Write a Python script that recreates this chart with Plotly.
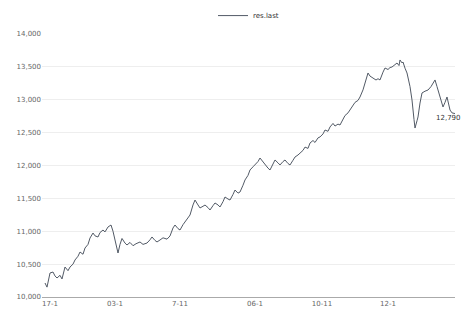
import plotly.graph_objects as go

series_name = "res.last"

# x positions (day index) and values
days = [0, 2, 5, 8, 10, 12, 15, 17, 20, 23, 25, 28, 30, 33, 35, 38, 40, 43, 45, 48,
        50, 53, 55, 58, 60, 63, 66, 68, 70, 73, 75, 77, 80, 82, 85, 88, 91, 95, 98, 102,
        105, 107, 110, 112, 115, 118, 122, 125, 128, 130, 133, 135, 138, 140, 143, 145, 148, 150, 153, 155,
        158, 160, 163, 165, 168, 170, 173, 175, 178, 180, 183, 185, 188, 190, 193, 195, 198, 200, 203, 205,
        208, 210, 213, 215, 218, 220, 223, 225, 228, 230, 233, 235, 238, 240, 243, 245, 248, 250, 253, 255,
        258, 260, 263, 265, 268, 270, 273, 275, 278, 280, 283, 285, 288, 290, 293, 295, 298, 300, 303, 305,
        308, 310, 313, 315, 318, 320, 323, 325, 328, 331, 333, 335, 338, 340, 343, 345, 347, 350, 352, 354,
        355, 357, 358, 360, 362, 365, 367, 369, 370, 372, 373, 375, 377, 380, 383, 386, 388, 390, 392, 395,
        398, 400, 402, 405, 407, 410]
values = [10213, 10150, 10365, 10380, 10320, 10289, 10330, 10274, 10456, 10400,
          10456, 10500, 10563, 10620, 10684, 10650, 10745, 10800, 10897, 10973,
          10930, 10913, 10980, 11019, 10990, 11065, 11095, 11000, 10867, 10669,
          10800, 10890, 10820, 10791, 10830, 10780, 10810, 10837, 10800, 10821,
          10870, 10913, 10860, 10837, 10867, 10900, 10880, 10928, 11050, 11095,
          11040, 11019, 11100, 11141, 11200, 11247, 11400, 11475, 11400, 11354,
          11380, 11399, 11360, 11323, 11390, 11430, 11400, 11369, 11450, 11521,
          11490, 11475, 11560, 11627, 11580, 11597, 11700, 11780, 11850, 11932,
          11980, 12008, 12060, 12114, 12050, 12008, 11960, 11932, 12030, 12084,
          12040, 12008, 12060, 12084, 12030, 12008, 12080, 12129, 12160, 12190,
          12230, 12280, 12260, 12342, 12380, 12350, 12420, 12434, 12480, 12540,
          12520, 12586, 12640, 12600, 12630, 12616, 12700, 12760, 12800, 12844,
          12900, 12960, 12990, 13042, 13150, 13255, 13407, 13360, 13331, 13300,
          13320, 13301, 13420, 13483, 13460, 13490, 13498, 13530, 13559, 13520,
          13605, 13560, 13574, 13480, 13407, 13200, 12996, 12700, 12570, 12680,
          12738, 12950, 13103, 13130, 13148, 13200, 13260, 13301, 13200, 13042,
          12890, 12960, 13042, 12844, 12800, 12790]

tick_days = [5, 70, 135, 210, 277, 343]
tick_labels = ["17-1", "03-1", "7-11", "06-1", "10-11", "12-1"]
y_ticks = [10000, 10500, 11000, 11500, 12000, 12500, 13000, 13500, 14000]

n = min(len(days), len(values))
days = days[:n]
values = values[:n]

fig = go.Figure()
fig.add_trace(go.Scatter(
    x=days, y=values, mode="lines", name=series_name,
    line=dict(color="#525a66", width=1),
))

fig.add_annotation(
    x=days[-1], y=values[-1], text=f"{values[-1]:,}", showarrow=False,
    xanchor="right", yanchor="middle", xshift=8, yshift=-4,
    font=dict(size=7, color="#333"),
)

fig.update_layout(
    width=464, height=315,
    margin=dict(l=42, r=9, t=34, b=18, autoexpand=False),
    paper_bgcolor="white", plot_bgcolor="white",
    font=dict(family="DejaVu Sans", size=7, color="#666"),
    showlegend=True,
    legend=dict(orientation="h", x=0.5, xanchor="center", y=1.07, yanchor="middle",
                font=dict(size=7, color="#333"),
                bgcolor="rgba(0,0,0,0)", itemwidth=30),
)

fig.update_xaxes(
    range=[-3, 410], tickvals=tick_days, ticktext=tick_labels,
    showgrid=False, zeroline=False, showline=True, linecolor="#aaa", linewidth=1,
    ticks="", tickfont=dict(size=7, color="#666"),
)
fig.update_yaxes(
    range=[10000, 14000], tickvals=y_ticks, ticktext=[f"{v:,}" for v in y_ticks],
    showgrid=True, gridcolor="#eeeeee", gridwidth=1, zeroline=False,
    ticks="", tickfont=dict(size=7, color="#666"),
)

fig.write_html("out.html", config={"displayModeBar": False},
               post_script="document.body.style.margin='0';document.body.style.overflow='hidden';")
